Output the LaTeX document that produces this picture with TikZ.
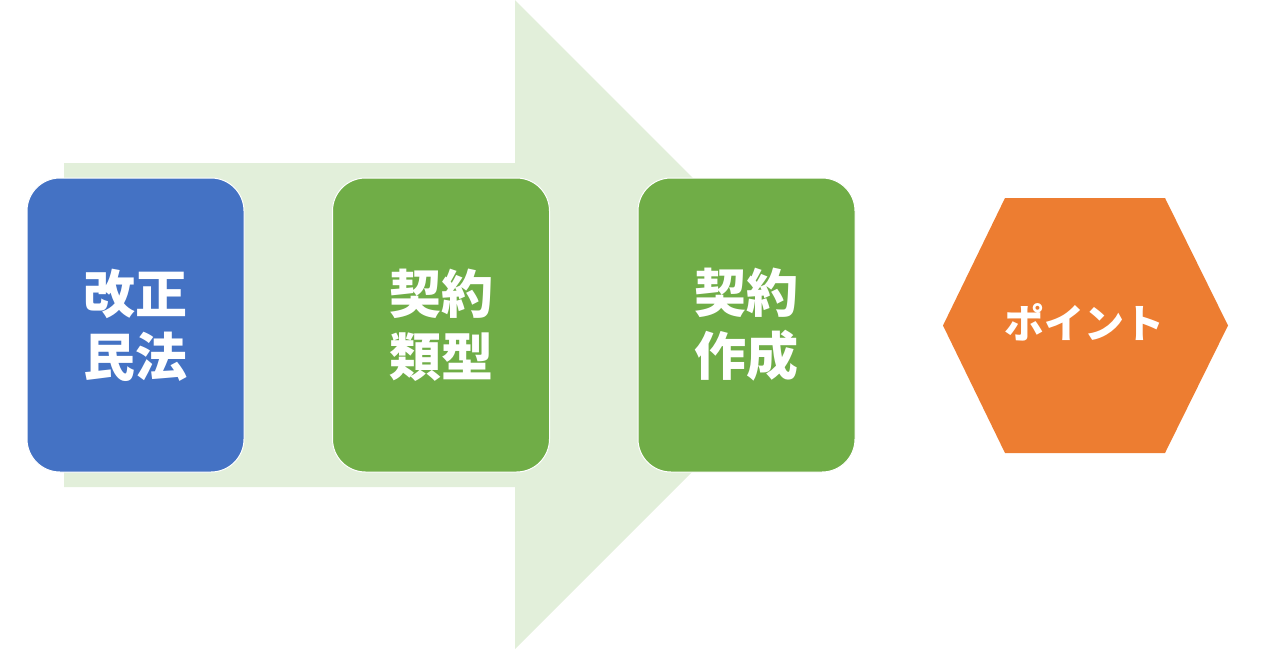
\documentclass[tikz,border=0pt]{standalone}
\usepackage{fontspec}
\newfontfamily\cjk{Noto Sans CJK JP}
\definecolor{arrowgreen}{HTML}{E2EFDA}
\definecolor{boxblue}{HTML}{4472C4}
\definecolor{boxgreen}{HTML}{70AD47}
\definecolor{hexorange}{HTML}{ED7D31}
\tikzset{
  stagebox/.style={rounded corners=33pt, draw=white, line width=1pt,
    minimum width=217pt, minimum height=294pt, inner sep=0pt,
    text=white, align=center, font=\cjk\bfseries\fontsize{52}{63}\selectfont},
  hextext/.style={text=white, inner sep=0pt, font=\cjk\bfseries\fontsize{40}{46}\selectfont}
}
\begin{document}
\begin{tikzpicture}[x=1pt,y=-1pt]
\useasboundingbox (0,0) rectangle (1270,649);
% big arrow
\fill[arrowgreen] (64,163) -- (515,163) -- (515,0) -- (839.5,324.5) -- (515,649) -- (515,487) -- (64,487) -- cycle;
% stages
\node[stagebox, fill=boxblue]  (s1) at (135.5,325) {改正\\民法};
\node[stagebox, fill=boxgreen] (s2) at (441,325) {契約\\類型};
\node[stagebox, fill=boxgreen] (s3) at (746.5,325) {契約\\作成};
% hexagon
\fill[hexorange] (943,325.5) -- (1005,198) -- (1165,198) -- (1228,325.5) -- (1165,453) -- (1005,453) -- cycle;
\node[hextext] (pt) at (1084,322) {ポイント};
\end{tikzpicture}
\end{document}
